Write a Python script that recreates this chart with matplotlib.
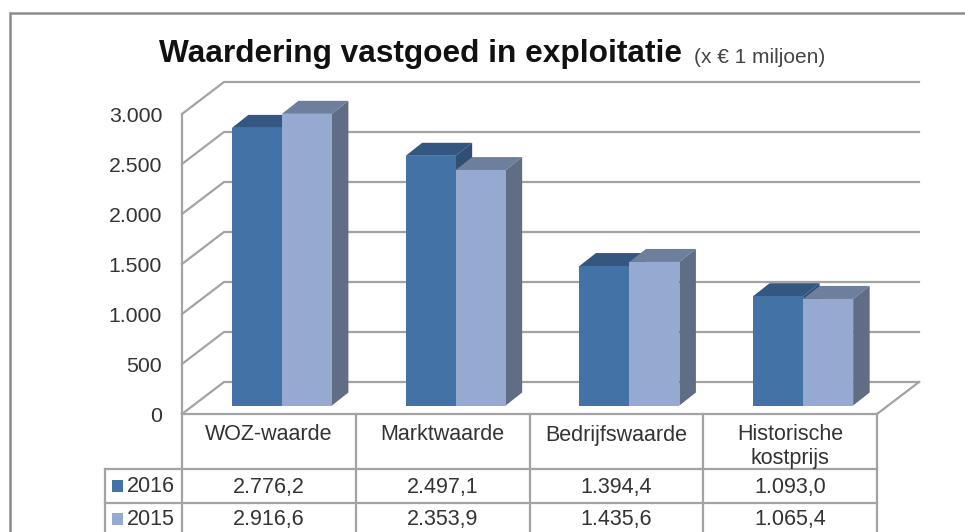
import numpy as np
import matplotlib
matplotlib.use("Agg")
import matplotlib.pyplot as plt
from matplotlib.patches import Polygon

categories = ["WOZ-waarde", "Marktwaarde", "Bedrijfswaarde", "Historische\nkostprijs"]
values_2016 = [2776.2, 2497.1, 1394.4, 1093.0]
values_2015 = [2916.6, 2353.9, 1435.6, 1065.4]
labels_2016 = ["2.776,2", "2.497,1", "1.394,4", "1.093,0"]
labels_2015 = ["2.916,6", "2.353,9", "1.435,6", "1.065,4"]
y_ticks = [0, 500, 1000, 1500, 2000, 2500, 3000]
y_tick_labels = ["0", "500", "1.000", "1.500", "2.000", "2.500", "3.000"]

W, H = 965, 532
GRAY = "#a3a3a3"
EDGE = "#8c8c8c"
TEXT = "#333333"
plt.rcParams["font.family"] = ["Liberation Sans", "DejaVu Sans"]

fig = plt.figure(figsize=(W / 100, H / 100), dpi=100)

# pixel overlay for frame and table
px = fig.add_axes([0, 0, 1, 1])
px.set_xlim(0, W)
px.set_ylim(H, 0)
px.axis("off")

left, right, floor, top = 182, 877, 414, 114
ax = fig.add_axes([left / W, 1 - floor / H, (right - left) / W, (floor - top) / H])
ax.patch.set_alpha(0)
ax.axis("off")
ax.set_xlim(0, len(categories))
ax.set_ylim(0, 3000)

x_per_px = len(categories) / (right - left)
y_per_px = 3000 / (floor - top)

# wall depth, in data units
wall_dx, wall_dy = 42 * x_per_px, 32 * y_per_px
for t, lab in zip(y_ticks, y_tick_labels):
    ax.plot([0, wall_dx, 4 + wall_dx], [t, t + wall_dy, t + wall_dy],
            color=GRAY, lw=1.6, clip_on=False, zorder=1, solid_joinstyle="miter")
    ax.annotate(lab, (0, t), xytext=(-20, -2), textcoords="offset pixels", ha="right",
                va="center", fontsize=15.3, color=TEXT, annotation_clip=False)
ax.plot([0, 0], [0, 3000], color=GRAY, lw=1.6, clip_on=False, zorder=1)
ax.plot([4, 4 + wall_dx], [0, wall_dy], color=GRAY, lw=1.6, clip_on=False, zorder=1)

# bars, 2016 first so 2015 overlaps it
bar_w = 50 * x_per_px
bar_dx, bar_dy = 16.5 * x_per_px, 13 * y_per_px
base = 85
group_x = np.arange(len(categories)) + 0.575
styles = [
    (values_2016, -bar_w / 2, "#4372a7", "#335780", "#2f4f75"),
    (values_2015, bar_w / 2, "#95a9d1", "#6e7f9e", "#5f6d85"),
]
for vals, off, front, top_c, side in styles:
    for x, v in zip(group_x + off, vals):
        x0, x1 = x - bar_w / 2, x + bar_w / 2
        y1 = base + v
        ax.add_patch(Polygon([(x0, y1), (x0 + bar_dx, y1 + bar_dy), (x1 + bar_dx, y1 + bar_dy), (x1, y1)],
                             facecolor=top_c, edgecolor="none", clip_on=False, zorder=2))
        ax.add_patch(Polygon([(x1, base), (x1 + bar_dx, base + bar_dy), (x1 + bar_dx, y1 + bar_dy), (x1, y1)],
                             facecolor=side, edgecolor="none", clip_on=False, zorder=2))
        ax.bar(x, v, bar_w, bottom=base, color=front, zorder=3, clip_on=False)

# outer frame
px.plot([10, 10, W], [H, 13, 13], color=EDGE, lw=1.8, solid_joinstyle="miter")

# data table
col_x = np.linspace(left, right, len(categories) + 1)
rows = [floor, 469, 503, H]
key_x = 105
px.plot([left, right], [rows[0], rows[0]], color=GRAY, lw=1.6)
for y in rows[1:3]:
    px.plot([key_x, right], [y, y], color=GRAY, lw=1.6)
for x in col_x:
    px.plot([x, x], [rows[0], H], color=GRAY, lw=1.6)
px.plot([key_x, key_x], [rows[1], H], color=GRAY, lw=1.6)

for i, cat in enumerate(categories):
    cx = (col_x[i] + col_x[i + 1]) / 2
    px.text(cx, 424.5, cat, ha="center", va="top", fontsize=15.5, color=TEXT, linespacing=1.13)
    px.text(cx, 487, labels_2016[i], ha="center", va="center", fontsize=15.5, color=TEXT)
    px.text(cx, 520, labels_2015[i], ha="center", va="center", fontsize=15.5, color=TEXT)

for y, name, col in [(486, "2016", "#4372a7"), (519, "2015", "#95a9d1")]:
    px.fill_between([112, 123], y - 6, y + 6, color=col, lw=0)
    px.text(127, y + 0.5, name, ha="left", va="center", fontsize=15.5, color=TEXT)

# title
px.text(159, 54, "Waardering vastgoed in exploitatie", ha="left", va="center",
        fontsize=22.8, color="#111111", fontweight="bold")
px.text(694, 57.5, "(x € 1 miljoen)", ha="left", va="center", fontsize=15, color="#444444")

fig.savefig("out.png", dpi=100)
plt.close()
